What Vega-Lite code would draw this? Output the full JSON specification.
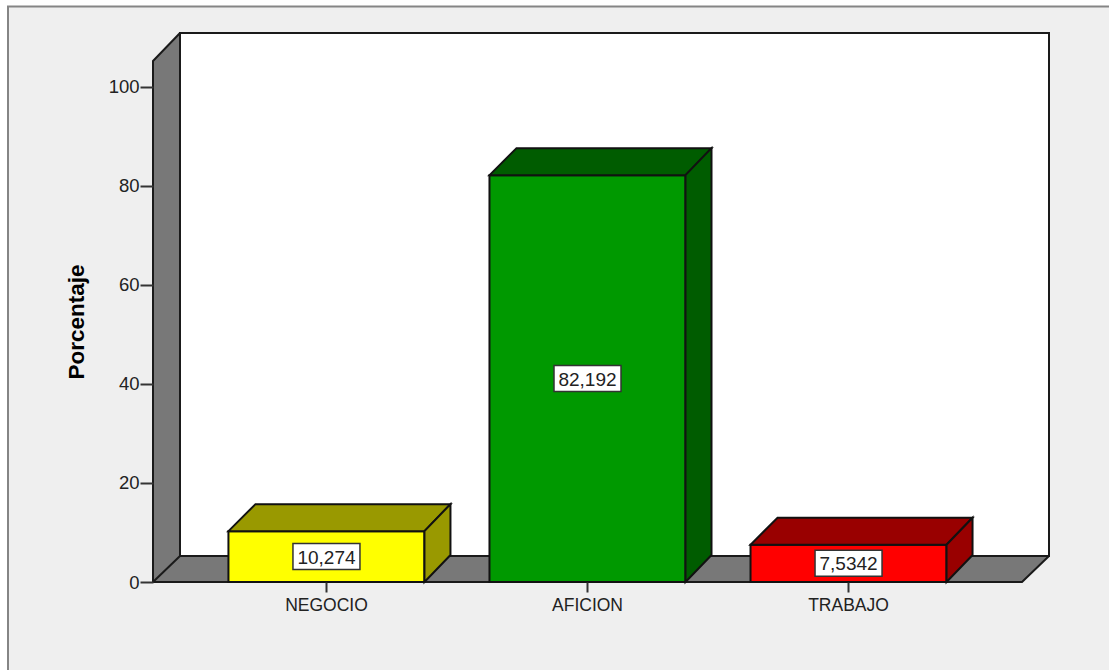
{
"$schema":"https://vega.github.io/schema/vega-lite/v6.json",
"width":869,"height":521,
"autosize":{"type":"none"},
"padding":{"left":153,"top":61,"right":87,"bottom":88},
"background":"#ffffff",
"config":{"view":{"stroke":null},"font":"Liberation Sans",
 "axisY":{"titleFontSize":22.5,"titleFont":"Liberation Sans","titleFontWeight":"bold","titleColor":"#000000","titlePadding":20,"grid":false,"domain":false,"labelFontSize":18.5,"labelFont":"Liberation Sans","labelColor":"#222222","tickSize":13,"tickWidth":2,"tickColor":"#333333","labelPadding":1}},
"datasets":{
"barras":[
{"categoria":"NEGOCIO","porcentaje":10.274,"mitad":5.137,"etiqueta":"10,274"},
{"categoria":"AFICION","porcentaje":82.192,"mitad":41.096,"etiqueta":"82,192"},
{"categoria":"TRABAJO","porcentaje":7.5342,"mitad":3.7671,"etiqueta":"7,5342"}
],
"base":[{"porcentaje":0}]
},
"layer":[
{"data":{"name":"base"},
 "mark":{"type":"point","filled":true,"opacity":1,"size":4,"fill":"#efefef","stroke":"#858585","strokeWidth":2,
  "shape":"M-579.5,-575.5L532.5,-575.5L532.5,98L-579.5,98Z"},
 "encoding":{"y":{"field":"porcentaje","type":"quantitative","scale":{"domain":[0,105.25],"nice":false},"axis":{"title":"Porcentaje","zindex":1,"values":[0,20,40,60,80,100]}}}},
{"data":{"name":"base"},
 "mark":{"type":"point","filled":true,"opacity":1,"size":4,"fill":"#ffffff","stroke":"#1a1a1a","strokeWidth":2,
  "shape":"M-407.5,-549L461.5,-549L461.5,-26L-407.5,-26Z"},
 "encoding":{"y":{"field":"porcentaje","type":"quantitative","scale":{"domain":[0,105.25],"nice":false},"axis":{"title":"Porcentaje","zindex":1,"values":[0,20,40,60,80,100]}}}},
{"data":{"name":"base"},
 "mark":{"type":"point","filled":true,"opacity":1,"size":4,"fill":"#787878","stroke":"#1a1a1a","strokeWidth":2,"strokeJoin":"round",
  "shape":"M-434.5,0L-434.5,-521L-407.5,-549L-407.5,-26ZM-434.5,0L434.5,0L461.5,-26L-407.5,-26Z"},
 "encoding":{"y":{"field":"porcentaje","type":"quantitative","scale":{"domain":[0,105.25],"nice":false},"axis":{"title":"Porcentaje","zindex":1,"values":[0,20,40,60,80,100]}}}},
{"data":{"name":"barras"},
 "mark":{"type":"bar","stroke":"#111111","strokeWidth":2},
 "encoding":{
  "x":{"field":"categoria","type":"nominal","sort":null,
   "scale":{"domain":["NEGOCIO","AFICION","TRABAJO"],"paddingInner":0.249,"paddingOuter":0.289},
   "axis":{"title":null,"zindex":1,"domain":false,"labelAngle":0,"labelFontSize":17.5,"labelFont":"Liberation Sans","labelColor":"#222222","tickSize":10,"tickWidth":2,"tickColor":"#333333","labelPadding":4}},
  "y":{"field":"porcentaje","type":"quantitative","scale":{"domain":[0,105.25],"nice":false},"axis":{"title":"Porcentaje","zindex":1,"values":[0,20,40,60,80,100]}},
  "fill":{"field":"categoria","type":"nominal","legend":null,
   "scale":{"domain":["NEGOCIO","AFICION","TRABAJO"],"range":["#ffff00","#009900","#ff0000"]}}
 }},
{"data":{"name":"barras"},
 "mark":{"type":"point","filled":true,"opacity":1,"size":4,"stroke":"#111111","strokeWidth":2,"shape":"M-98,0L98,0L124,-27L-71,-27Z"},
 "encoding":{
  "x":{"field":"categoria","type":"nominal","sort":null},
  "y":{"field":"porcentaje","type":"quantitative","scale":{"domain":[0,105.25],"nice":false},"axis":{"title":"Porcentaje","zindex":1,"values":[0,20,40,60,80,100]}},
  "color":{"field":"categoria","type":"nominal","legend":null,
   "scale":{"domain":["NEGOCIO","AFICION","TRABAJO"],"range":["#999900","#005c00","#990000"]}}
 }},
{"data":{"name":"barras"},
 "mark":{"type":"point","filled":true,"opacity":1,"size":4,"stroke":"#111111","strokeWidth":2},
 "encoding":{
  "x":{"field":"categoria","type":"nominal","sort":null},
  "y":{"field":"porcentaje","type":"quantitative","scale":{"domain":[0,105.25],"nice":false},"axis":{"title":"Porcentaje","zindex":1,"values":[0,20,40,60,80,100]}},
  "color":{"field":"categoria","type":"nominal","legend":null,
   "scale":{"domain":["NEGOCIO","AFICION","TRABAJO"],"range":["#999900","#005c00","#990000"]}},
  "shape":{"field":"categoria","type":"nominal","legend":null,
   "scale":{"domain":["NEGOCIO","AFICION","TRABAJO"],
    "range":["M98,0L124,-27L124,23.9L98,50.9Z","M98,0L124,-27L124,379.9L98,406.9Z","M98,0L124,-27L124,10.3L98,37.3Z"]}}
 }},
{"data":{"name":"barras"},
 "mark":{"type":"point","filled":true,"opacity":1,"size":4,"fill":"#ffffff","stroke":"#333333","strokeWidth":1.5,"shape":"M-33.5,-13L33.5,-13L33.5,13L-33.5,13Z"},
 "encoding":{
  "x":{"field":"categoria","type":"nominal","sort":null},
  "y":{"field":"mitad","type":"quantitative","scale":{"domain":[0,105.25],"nice":false},"axis":{"title":"Porcentaje","zindex":1,"values":[0,20,40,60,80,100]}}
 }},
{"data":{"name":"barras"},
 "mark":{"type":"text","fontSize":19,"font":"Liberation Sans","color":"#222222","align":"center","baseline":"middle","dy":1},
 "encoding":{
  "x":{"field":"categoria","type":"nominal","sort":null},
  "y":{"field":"mitad","type":"quantitative","scale":{"domain":[0,105.25],"nice":false},"axis":{"title":"Porcentaje","zindex":1,"values":[0,20,40,60,80,100]}},
  "text":{"field":"etiqueta","type":"nominal"}
 }}
],
"resolve":{"scale":{"fill":"independent","color":"independent"}}
}
